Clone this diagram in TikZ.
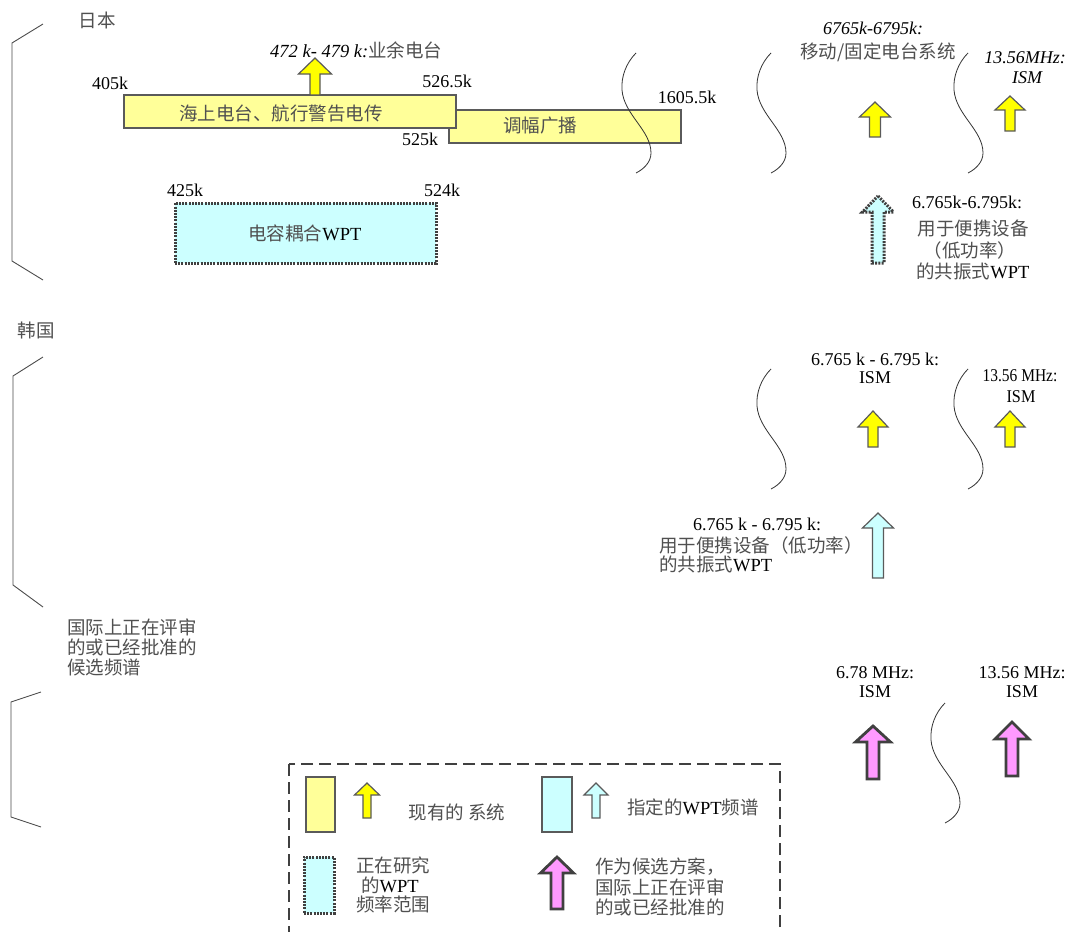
\documentclass[tikz,border=0pt]{standalone}
\usepackage{fontspec}
\usepackage{graphicx}
\setmainfont{Liberation Serif}
\newfontfamily\cjk{Noto Sans CJK SC}
\definecolor{bandyellow}{HTML}{FFFF99}
\definecolor{arrowyellow}{HTML}{FFFF00}
\definecolor{cyanfill}{HTML}{CCFFFF}
\definecolor{pinkfill}{HTML}{FF99FF}
\definecolor{edgegray}{HTML}{5A5A5A}
\definecolor{darkedge}{HTML}{404040}
\definecolor{txtgray}{HTML}{505050}
\newcommand\lat[1]{\textcolor{black}{\rmfamily #1}}
\tikzset{
  lbl/.style={font=\fontsize{18}{20}\selectfont, inner sep=0pt, text=black},
  ilbl/.style={font=\fontsize{18}{20}\selectfont\itshape, inner sep=0pt, text=black},
  zh/.style={font=\fontsize{18.5}{20}\selectfont\cjk, inner sep=0pt, text=txtgray},
  band/.style={draw=edgegray, line width=1.5pt, fill=bandyellow},
  dotband/.style={draw=darkedge, line width=3pt, dash pattern=on 2pt off 1.2pt, fill=cyanfill},
  cyanband/.style={draw=edgegray, line width=1.2pt, fill=cyanfill},
  yarrow/.style={draw=edgegray, line width=1.2pt, fill=arrowyellow},
  carrow/.style={draw=edgegray, line width=1.2pt, fill=cyanfill},
  carrowdot/.style={draw=darkedge, line width=3pt, dash pattern=on 2pt off 1.2pt, fill=cyanfill},
  parrow/.style={draw=darkedge, line width=2.8pt, fill=pinkfill},
  wave/.style={draw=black!80, line width=0.8pt},
  bracket/.style={draw=black!70, line width=0.9pt},
  legendbox/.style={draw=darkedge, line width=2.5pt, dash pattern=on 12pt off 6pt}
}
\newcommand\uparr[7]{\draw[#7, shift={(#1,#2)}] (0,0) -- (#3,#4) -- (#5,#4) -- (#5,#6) -- (-#5,#6) -- (-#5,#4) -- (-#3,#4) -- cycle;}
\newcommand\wavy[2]{\draw[wave, shift={(#1,#2)}] (0,0) .. controls (-10,10) and (-15,24) .. (-14,37) .. controls (-12,62) and (15,77) .. (15,100) .. controls (15,109) and (8,116) .. (0,120);}
\begin{document}
\begin{tikzpicture}[x=1pt,y=-1pt]
\useasboundingbox (0,0) rectangle (1069,932);
\clip (0,0) rectangle (1069,932);
\fill[white] (0,0) rectangle (1069,932);

% ---------------- Japan ----------------
\node[zh] (jp) at (97,20) {日本};
\draw[bracket] (43,24) -- (12,43) -- (12,261) -- (43,280);

\node[band, minimum width=232pt, minimum height=33pt, inner sep=0pt] (amband) at (565,126.5) {};
\node[zh] (amtxt) at (540,126) {调幅广播};
\node[band, minimum width=332pt, minimum height=33pt, inner sep=0pt] (marband) at (290,111.5) {};
\node[zh] (martxt) at (281,113) {海上电台、航行警告电传};

\uparr{315}{58}{16.5}{16}{5}{37}{yarrow}
\node[zh, anchor=west] (ama) at (270,50) {\lat{\itshape 472 k- 479 k:}业余电台};

\node[lbl] (f405) at (110,83) {405k};
\node[lbl] (f5265) at (447,81) {526.5k};
\node[lbl] (f525) at (420,139) {525k};
\node[lbl] (f1605) at (687,97) {1605.5k};

\node[lbl] (f425) at (185,190) {425k};
\node[lbl] (f524) at (442,190) {524k};
\node[dotband, minimum width=261pt, minimum height=60pt, inner sep=0pt] (capband) at (305.5,233) {};
\node[zh] (captxt) at (305,233) {电容耦合\lat{WPT}};

\wavy{636}{53}
\wavy{771}{53}
\wavy{968}{53}

\node[ilbl] (mob1) at (873,28) {6765k-6795k:};
\node[zh] (mob2) at (878,52) {移动/固定电台系统};
\uparr{875}{102}{15.5}{15}{5.5}{35}{yarrow}

\node[ilbl] (jism1) at (1025,58) {13.56MHz:};
\node[ilbl] (jism2) at (1027,78) {ISM};
\uparr{1010}{96}{15}{14}{5}{35}{yarrow}

\uparr{878}{196}{15.5}{16}{6}{67}{carrowdot}
\node[lbl] (jres1) at (967,202) {6.765k-6.795k:};
\node[zh] (jres2) at (973,228) {用于便携设备};
\node[zh] (jres3) at (970,250) {（低功率）};
\node[zh] (jres4) at (973,271) {的共振式\lat{WPT}};

% ---------------- Korea ----------------
\node[zh] (kr) at (36,330) {韩国};
\draw[bracket] (43,357) -- (13,376) -- (13,585) -- (43,607);

\wavy{771}{369}
\wavy{968}{369}

\node[lbl] (kism1) at (875,359) {6.765 k - 6.795 k:};
\node[lbl] (kism2) at (875,378) {ISM};
\uparr{873}{411}{15}{16}{5}{36}{yarrow}

\node[lbl] (kism3) at (1020,376) {\scalebox{0.86}[1]{13.56 MHz:}};
\node[lbl] (kism4) at (1021,397) {\scalebox{0.9}[1]{ISM}};
\uparr{1010}{411}{15}{16}{5}{36}{yarrow}

\uparr{878}{513}{15.5}{15}{5.5}{65}{carrow}
\node[lbl] (kres1) at (757,524) {6.765 k - 6.795 k:};
\node[zh, anchor=west] (kres2) at (659,545) {用于便携设备（低功率）};
\node[zh, anchor=west] (kres3) at (659,564) {的共振式\lat{WPT}};

% ---------------- International ----------------
\node[zh, anchor=west] (int1) at (67,627) {国际上正在评审};
\node[zh, anchor=west] (int2) at (67,647) {的或已经批准的};
\node[zh, anchor=west] (int3) at (67,667) {候选频谱};
\draw[bracket] (41,692) -- (11,702) -- (11,817) -- (41,827);

\node[lbl] (iism1) at (875,673) {6.78 MHz:};
\node[lbl] (iism2) at (875,692) {ISM};
\uparr{873}{726}{17.5}{16}{6}{53}{parrow}

\node[lbl] (iism3) at (1022,673) {13.56 MHz:};
\node[lbl] (iism4) at (1022,692) {ISM};
\uparr{1012}{722}{17}{17}{6}{54}{parrow}

\wavy{945}{703}

% ---------------- Legend ----------------
\draw[legendbox] (289,764) rectangle (780,960);

\node[band, line width=1.2pt, minimum width=29pt, minimum height=55pt, inner sep=0pt] (lgy) at (320.5,804.5) {};
\uparr{367}{783}{12.5}{12}{4}{35}{yarrow}
\node[zh] (lgytxt) at (457,812) {现有的 系统};

\node[cyanband, minimum width=30pt, minimum height=55pt, inner sep=0pt] (lgc) at (557,804.5) {};
\uparr{596}{783}{12}{12}{4}{35}{carrow}
\node[zh] (lgctxt) at (693,807) {指定的\lat{WPT}频谱};

\node[dotband, minimum width=30pt, minimum height=56pt, inner sep=0pt] (lgd) at (319,885) {};
\node[zh] (lgd1) at (393,865) {正在研究};
\node[zh] (lgd2) at (390,885) {的\lat{WPT}};
\node[zh] (lgd3) at (393,904) {频率范围};

\uparr{557}{857}{16.5}{16}{6}{52}{parrow}
\node[zh, anchor=west] (lgp1) at (595,867) {作为候选方案，};
\node[zh, anchor=west] (lgp2) at (595,887) {国际上正在评审};
\node[zh, anchor=west] (lgp3) at (595,907) {的或已经批准的};
\end{tikzpicture}
\end{document}
